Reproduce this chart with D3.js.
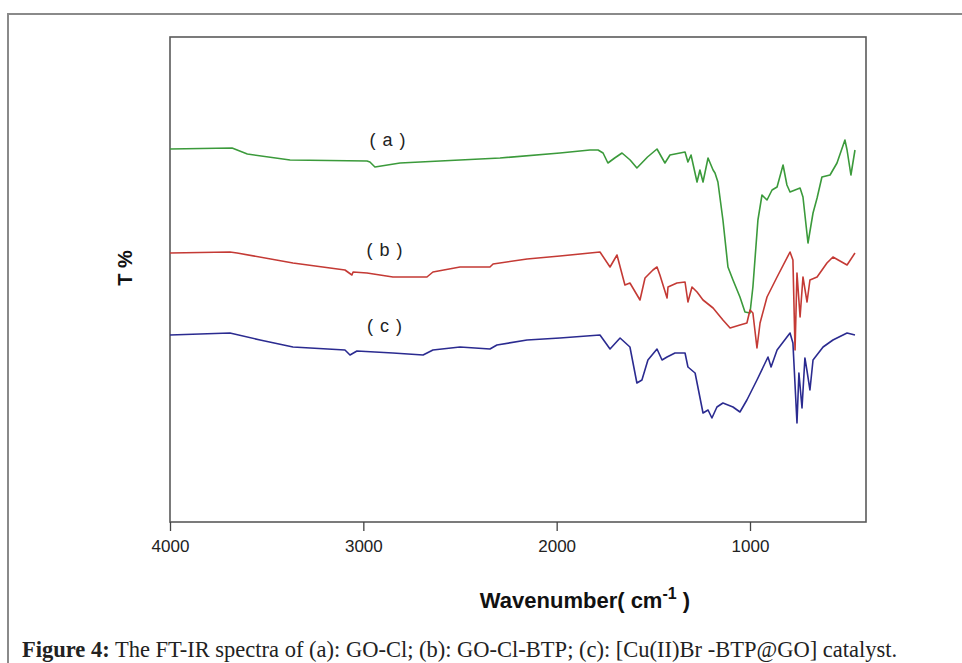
<!DOCTYPE html>
<html>
<head>
<meta charset="utf-8">
<script src="https://cdn.jsdelivr.net/npm/d3@7"></script>
<style>
  body { margin: 0; background: #fff; }
  svg { display: block; }
</style>
</head>
<body>
<div id="myChart"></div>
<script>
let width = 962;
let height = 663;

// spectra: [wavenumber cm-1, transmittance (arbitrary %)]
const specA = [
  [4000, 74.6], [3679, 74.8], [3600, 73.6], [3379, 72.4], [2981, 72.2], [2966, 72.0], [2940, 71.0],
  [2810, 71.8], [2293, 72.8], [1983, 73.8], [1828, 74.4], [1786, 74.4], [1760, 73.8], [1735, 71.8],
  [1700, 72.8], [1662, 73.8], [1620, 72.4], [1585, 70.8], [1530, 73.0], [1481, 74.6], [1440, 71.8],
  [1414, 73.4], [1362, 73.8], [1336, 74.0], [1321, 72.0], [1305, 73.4], [1274, 68.0], [1259, 70.4],
  [1243, 68.0], [1217, 72.8], [1191, 70.4], [1181, 69.8], [1166, 68.0], [1140, 60.4], [1114, 51.0],
  [1088, 48.4], [1052, 45.0], [1026, 42.0], [1000, 41.8], [985, 47.0], [959, 60.4],
  [938, 65.4], [912, 64.4], [886, 66.4], [860, 67.0], [829, 71.4], [809, 67.4],
  [793, 66.0], [741, 66.8], [726, 65.0], [700, 55.8], [674, 61.8], [653, 64.8],
  [628, 69.0], [586, 69.4], [550, 71.8], [509, 76.4], [498, 74.4], [478, 69.4], [457, 74.4]
];

const specB = [
  [4000, 53.8], [3690, 54.0], [3653, 53.8], [3364, 51.8], [3095, 50.4], [3059, 49.4],
  [3053, 50.0], [2981, 49.8], [2847, 49.0], [2671, 49.0], [2640, 50.0], [2500, 51.0],
  [2345, 51.0], [2329, 51.6], [2153, 52.6], [1983, 53.2], [1776, 54.0], [1724, 51.0],
  [1688, 53.4], [1647, 47.4], [1621, 47.8], [1569, 44.4], [1543, 48.8], [1502, 50.4],
  [1481, 51.0], [1466, 49.4], [1429, 44.8], [1424, 47.0], [1378, 47.8], [1336, 48.0],
  [1321, 44.0], [1300, 47.0], [1274, 46.0], [1243, 44.4], [1191, 42.8], [1140, 40.4],
  [1103, 38.8], [1052, 39.4], [1016, 39.8], [1000, 42.4], [985, 41.8], [964, 34.8],
  [948, 39.8], [912, 45.0], [860, 49.0], [793, 54.0], [778, 52.4], [767, 34.4],
  [757, 49.8], [741, 41.0], [726, 49.0], [705, 44.0], [690, 48.4], [653, 49.0],
  [602, 51.8], [571, 53.0], [498, 51.4], [457, 53.8]
];

const specC = [
  [4000, 37.4], [3690, 37.8], [3534, 36.4], [3364, 35.0], [3095, 34.4], [3069, 33.4],
  [3033, 34.2], [2847, 33.8], [2691, 33.4], [2640, 34.4], [2500, 35.0], [2345, 34.6],
  [2309, 35.4], [2153, 36.4], [1983, 36.8], [1776, 37.4], [1724, 34.6], [1672, 36.8],
  [1621, 35.0], [1585, 27.8], [1559, 28.4], [1528, 32.4], [1481, 34.6], [1455, 32.4],
  [1429, 33.0], [1388, 33.8], [1336, 33.8], [1321, 31.0], [1284, 29.8], [1243, 21.8],
  [1217, 22.4], [1197, 20.8], [1171, 23.0], [1140, 23.8], [1088, 23.0], [1052, 22.0],
  [1016, 24.4], [964, 28.4], [907, 33.0], [891, 31.0], [860, 34.4], [793, 37.8],
  [778, 35.8], [757, 19.8], [747, 29.8], [731, 22.8], [716, 32.8], [705, 30.2],
  [690, 26.4], [674, 32.4], [622, 35.0], [571, 36.4], [498, 37.8], [457, 37.4]
];

const seriesNames = ["( a )", "( b )", "( c )"];
const seriesColors = ["#3b9a3b", "#c43a35", "#2b2b90"];
// label anchor positions in data units
const labelPos = [[2872, 75.2], [2888, 53.2], [2888, 38.0]];
const xTicks = [4000, 3000, 2000, 1000];

let svg = d3.select("#myChart").append("svg")
  .attr("width", width)
  .attr("height", height);

// outer figure frame
svg.append("path")
  .attr("d", "M8,663 L8,14 L962,14")
  .attr("fill", "none")
  .attr("stroke", "#8a8a8a")
  .attr("stroke-width", 2);

let plot = { left: 170, top: 37, right: 866, bottom: 522 };

var x = d3.scaleLinear().domain([4000, 400]).range([plot.left, plot.right]);
var y = d3.scaleLinear().domain([0, 97]).range([plot.bottom, plot.top]);

// axis box
svg.append("rect")
  .attr("x", plot.left)
  .attr("y", plot.top)
  .attr("width", plot.right - plot.left)
  .attr("height", plot.bottom - plot.top)
  .attr("fill", "none")
  .attr("stroke", "#5a5a5a")
  .attr("stroke-width", 1.6);

// bottom axis
var xAxis = svg.append("g")
  .attr("transform", "translate(0," + plot.bottom + ")")
  .call(d3.axisBottom(x).tickValues(xTicks).tickSize(9).tickPadding(9).tickFormat(d3.format("d")));
xAxis.select(".domain").remove();
xAxis.selectAll(".tick line").attr("stroke", "#444").attr("stroke-width", 1.3);
xAxis.selectAll(".tick text")
  .attr("fill", "#222")
  .style("font-family", "'Liberation Sans', Arial, sans-serif")
  .style("font-size", "17px");

// spectra
var line = d3.line()
  .x(d => x(d[0]))
  .y(d => y(d[1]));

[specA, specB, specC].forEach(function (s, i) {
  svg.append("path")
    .datum(s)
    .attr("d", line)
    .attr("fill", "none")
    .attr("stroke", seriesColors[i])
    .attr("stroke-width", 1.6)
    .attr("stroke-linejoin", "round");
});

// series labels
svg.selectAll(".slabel")
  .data(seriesNames)
  .enter()
  .append("text")
  .attr("class", "slabel")
  .attr("x", (d, i) => x(labelPos[i][0]))
  .attr("y", (d, i) => y(labelPos[i][1]))
  .attr("text-anchor", "middle")
  .style("font-family", "'Liberation Sans', Arial, sans-serif")
  .style("font-size", "18px")
  .style("letter-spacing", "1px")
  .attr("fill", "#222")
  .text(d => d);

// axis titles
var xt = svg.append("text")
  .attr("x", 585)
  .attr("y", 608)
  .attr("text-anchor", "middle")
  .style("font-family", "'Liberation Sans', Arial, sans-serif")
  .style("font-size", "22px")
  .style("font-weight", "bold")
  .attr("fill", "#111");
xt.append("tspan").text("Wavenumber( cm");
xt.append("tspan").attr("dy", -9).style("font-size", "16px").text("-1");
xt.append("tspan").attr("dy", 9).text(" )");

svg.append("text")
  .attr("transform", "translate(132,268) rotate(-90)")
  .attr("text-anchor", "middle")
  .style("font-family", "'Liberation Sans', Arial, sans-serif")
  .style("font-size", "20px")
  .style("font-weight", "bold")
  .attr("fill", "#111")
  .text("T %");

// caption
var cap = svg.append("text")
  .attr("x", 22)
  .attr("y", 657)
  .style("font-family", "'Liberation Serif', 'DejaVu Serif', serif")
  .style("font-size", "22.5px")
  .attr("fill", "#222");
cap.append("tspan").style("font-weight", "bold").text("Figure 4:");
cap.append("tspan").text(" The FT-IR spectra of (a): GO-Cl; (b): GO-Cl-BTP; (c): [Cu(II)Br -BTP@GO] catalyst.");
</script>
</body>
</html>
